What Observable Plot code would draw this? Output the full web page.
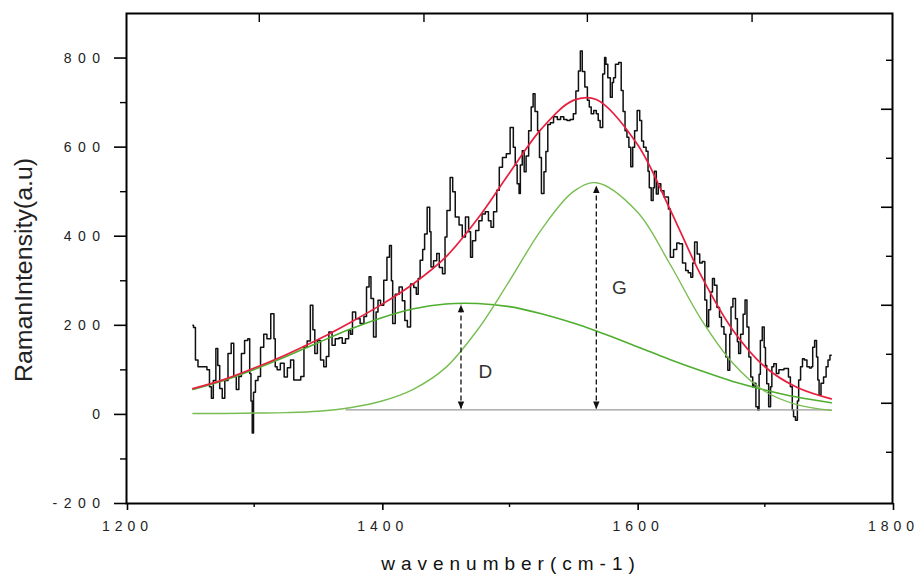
<!DOCTYPE html>
<html><head><meta charset="utf-8">
<script src="https://cdn.jsdelivr.net/npm/d3@7"></script>
<script src="https://cdn.jsdelivr.net/npm/@observablehq/plot@0.6"></script>
<style>
body{margin:0;background:#fff;}
#chart{width:920px;height:577px;}
#chart svg text{font-family:"Liberation Sans",Arial,sans-serif;}
#chart svg g[aria-label="x-axis tick label"] text{letter-spacing:5px;}
#chart svg g[aria-label="y-axis tick label"] text{letter-spacing:6.5px;}
</style></head><body><div id="chart"></div>
<script>
// Measured Raman spectrum (wavenumber cm-1, intensity a.u.)
const spectrumX = [1252,1253,1255,1257,1262,1264,1266,1267,1269,1271,1272,1274,1276,1278,1281,1283,1285,1287,1289,1291,1294,1296,1297,1298,1299,1300,1302,1304,1306,1309,1311,1315,1316,1317,1319,1322,1325,1327,1330,1332,1335,1338,1340,1343,1345,1347,1348,1351,1353,1356,1357,1360,1362,1365,1368,1370,1373,1375,
1376,1378,1381,1385,1387,1389,1391,1392,1395,1396,1398,1400,1403,1405,1407,1408,1409,1412,1415,1417,1419,1421,1424,1426,1428,1429,1431,1433,1434,1437,1438,1439,1442,1444,1446,1449,1450,1452,1455,1456,1459,1462,1464,1467,1469,1470,1472,1475,1477,1480,1482,1485,1486,1489,1491,1493,1496,1499,
1502,1504,1505,1507,1508,1509,1511,1512,1514,1516,1518,1519,1521,1523,1524,1526,1528,1529,1531,1533,1536,1539,1541,1544,1546,1549,1551,1553,1555,1556,1558,1560,1562,1563,1565,1567,1569,1570,1572,1574,1575,1576,1578,1580,1581,1582,1584,1587,1588,1590,1591,1593,1594,1596,1597,1599,1601,1603,1604,1606,1608,1609,1610,1612,1613,1614,1616,1617,1620,1622,1624,1625,
1627,1630,1632,1634,1637,1639,1641,1643,1644,1646,1648,1650,1652,1654,1655,1657,1658,1660,1661,1664,1665,1667,1669,1670,1672,1673,1674,1676,1678,1679,1680,1682,1684,1685,1687,1688,1690,1691,1692,1694,1695,1696,1697,1699,1700,1701,1702,1704,1705,1706,1708,1710,1712,1714,1716,1718,1719,1721,1722,1723,1725,1726,1727,1729,1730,1732,1734,1736,1737,1738,1740,1741,1742,1743,1745,1747,1749,1750,1752];
const spectrumY = [200,195,122,107,107,100,62,36,76,148,110,58,36,76,137,160,85,56,85,137,166,170,92,30,-42,50,76,85,151,180,170,226,170,107,100,115,84,105,122,77,77,85,151,165,245,190,137,166,122,107,130,185,155,170,172,160,170,189,
180,230,215,204,220,286,309,260,174,230,256,245,301,353,379,300,204,270,286,255,211,196,293,285,270,305,346,370,405,465,410,331,345,361,330,316,398,458,532,500,443,425,398,443,410,353,390,413,435,450,455,435,420,455,503,555,577,585,
644,600,560,518,496,560,592,545,580,637,690,720,680,637,577,496,545,590,651,655,668,662,668,662,660,662,675,726,771,816,770,735,705,690,675,682,675,660,644,764,801,786,756,712,745,756,786,790,727,680,637,622,600,556,600,637,682,660,614,600,591,546,509,480,509,546,495,518,502,488,488,461,
353,370,385,383,340,323,318,308,340,387,360,340,343,257,197,235,275,305,290,240,218,197,180,129,99,180,241,260,215,163,137,180,225,257,196,129,84,62,70,17,10,90,166,196,150,110,69,17,62,107,114,92,100,100,103,103,84,62,10,-5,-13,30,77,107,125,122,107,104,107,151,166,129,77,43,70,84,107,122,133];

// Fitted curves
const fitX     = [1252,1275,1300,1325,1350,1375,1400,1425,1450,1475,1500,1525,1550,1568,1600,1625,1650,1675,1700,1725,1752];
const fitTotal = [58,77,104,134,168,206,247,294,353,439,542,641,705,707,607,465,312,189,107,61,35];
const bandD    = [56,75,101,130,161,191,217,237,248,249,242,226,205,187,152,124,98,74,55,39,26];
const bandG    = [2,2,3,4,7,15,30,57,105,190,300,415,500,520,455,341,214,115,52,22,9];

const baselineX = [1372, 1752];
const baselineY = [10, 10];

// Peak-height arrows and labels
const arrowX = [1462, 1568];
const arrowTop = [246, 514];
const arrowBottom = [12, 12];
const peakLabels = ["D", "G"];
const peakLabelX = [1481, 1586];
const peakLabelY = [95, 283];

// Axis ticks
const xMajorTicks = [1200, 1400, 1600, 1800];
const xMinorTicks = [1300, 1500, 1700];
const yMajorTicks = [-200, 0, 200, 400, 600, 800];
const yMinorTicks = [-100, 100, 300, 500, 700];
const rightMajorTicks = [25, 245, 465, 685];
const rightMinorTicks = [-85, 135, 355, 575, 795];
const topTicks = [1304, 1433, 1561, 1690];

const triUp = {draw(ctx, size){const y=Math.sqrt(size/(Math.sqrt(3)*3));const w=y*1.3;ctx.moveTo(0,-2*y);ctx.lineTo(w,y);ctx.lineTo(-w,y);ctx.closePath();}};
const triDown = {draw(ctx, size){const y=Math.sqrt(size/(Math.sqrt(3)*3));const w=y*1.3;ctx.moveTo(0,2*y);ctx.lineTo(w,-y);ctx.lineTo(-w,-y);ctx.closePath();}};
const blank = () => "";

const plot = Plot.plot({
  width: 920, height: 577,
  marginLeft: 126, marginRight: 28, marginTop: 13, marginBottom: 74,
  style: {background: "#fff", overflow: "visible"},
  x: {domain: [1200, 1800]},
  y: {domain: [-200, 900]},
  marks: [
    Plot.axisX(xMajorTicks, {anchor: "bottom", tickSize: 7, tickPadding: 11, fontSize: 14, fill: "#222", stroke: "#000", strokeWidth: 1.6, tickFormat: d => String(d), label: null, dx: 1}),
    Plot.axisX(xMinorTicks, {anchor: "bottom", tickSize: 4, stroke: "#000", strokeWidth: 1.4, tickFormat: blank, label: null}),
    Plot.axisX(topTicks, {anchor: "top", tickSize: -8, stroke: "#000", strokeWidth: 1.4, tickFormat: blank, label: null}),
    Plot.axisY(yMajorTicks, {anchor: "left", tickSize: 12, tickPadding: 8, fontSize: 14, fill: "#222", stroke: "#000", strokeWidth: 1.6, tickFormat: d => String(d), label: null}),
    Plot.axisY(yMinorTicks, {anchor: "left", tickSize: 6, stroke: "#000", strokeWidth: 1.4, tickFormat: blank, label: null}),
    Plot.axisY(rightMajorTicks, {anchor: "right", tickSize: -12, stroke: "#000", strokeWidth: 1.6, tickFormat: blank, label: null}),
    Plot.axisY(rightMinorTicks, {anchor: "right", tickSize: -7, stroke: "#000", strokeWidth: 1.4, tickFormat: blank, label: null}),
    Plot.line(spectrumY, {x: spectrumX, y: spectrumY, curve: "step", stroke: "#111", strokeWidth: 1.5}),
    Plot.line(baselineY, {x: baselineX, y: baselineY, stroke: "#9a9a9a", strokeWidth: 1.2}),
    Plot.line(bandD, {x: fitX, y: bandD, curve: "catmull-rom", stroke: "#4fae2e", strokeWidth: 1.6}),
    Plot.line(bandG, {x: fitX, y: bandG, curve: "catmull-rom", stroke: "#78bd52", strokeWidth: 1.4}),
    Plot.line(fitTotal, {x: fitX, y: fitTotal, curve: "catmull-rom", stroke: "#e81f3f", strokeWidth: 1.7}),
    Plot.ruleX(arrowX, {x: arrowX, y1: arrowBottom, y2: arrowTop, stroke: "#111", strokeWidth: 1.3, strokeDasharray: "5,3"}),
    Plot.dot(arrowX, {x: arrowX, y: arrowTop, symbol: triUp, r: 3.2, fill: "#111", stroke: "none", dy: 5}),
    Plot.dot(arrowX, {x: arrowX, y: arrowBottom, symbol: triDown, r: 3.2, fill: "#111", stroke: "none", dy: -5}),
    Plot.text(peakLabels, {x: peakLabelX, y: peakLabelY, text: d => d, fontSize: 19, fill: "#333"}),
    Plot.frame({stroke: "#000", strokeWidth: 2})
  ]
});
document.getElementById("chart").appendChild(plot);

const svg = d3.select(plot);
svg.append("text")
  .attr("x", 511).attr("y", 570)
  .attr("text-anchor", "middle")
  .style("font-size", "19px").style("letter-spacing", "6px")
  .attr("fill", "#111")
  .text("wavenumber(cm-1)");
svg.append("text")
  .attr("transform", "translate(32,270) rotate(-90)")
  .attr("text-anchor", "middle")
  .attr("textLength", 224).attr("lengthAdjust", "spacingAndGlyphs")
  .style("font-size", "23px")
  .attr("fill", "#222")
  .text("RamanIntensity(a.u)");
</script></body></html>
